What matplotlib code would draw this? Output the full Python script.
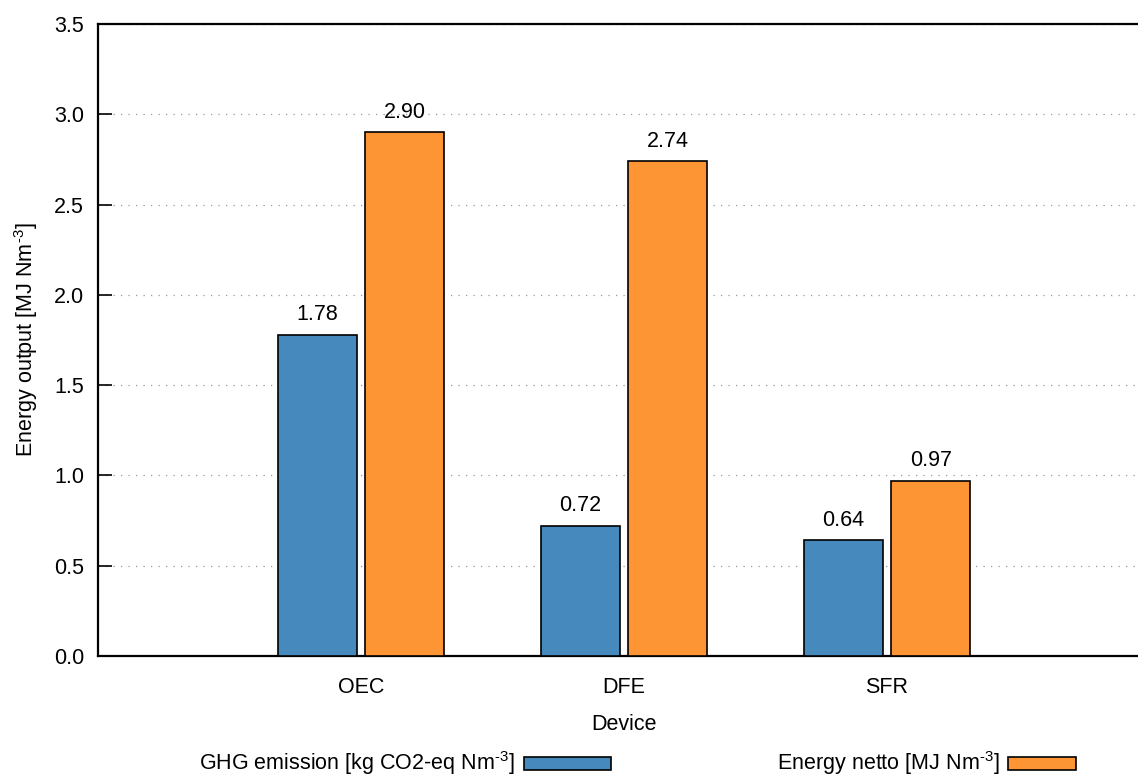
import matplotlib as mpl
mpl.use('Agg')
import matplotlib.pyplot as plt
from matplotlib.patches import Rectangle
import numpy as np

plt.rcParams['font.family'] = ['Liberation Sans', 'DejaVu Sans']
plt.rcParams['mathtext.fontset'] = 'custom'
plt.rcParams['mathtext.rm'] = 'Liberation Sans'

# superscript with a plain hyphen, not a math minus
SUP = '$^{\u2010\\mathrm{3}}$'

devices = ['OEC', 'DFE', 'SFR']
ghg_emission = [1.78, 0.72, 0.64]
energy_netto = [2.90, 2.74, 0.97]
series_labels = ['GHG emission [kg CO2-eq Nm' + SUP + ']', 'Energy netto [MJ Nm' + SUP + ']']
yticks = [0.0, 0.5, 1.0, 1.5, 2.0, 2.5, 3.0, 3.5]

blue = '#4589bd'
orange = '#fd9535'
fs = 15.5

fig = plt.figure(figsize=(11.38, 7.76), dpi=100)
# the right end of the x range (4) falls just past the image edge
ax = fig.add_axes([98 / 1138, 1 - 656 / 776, 1052 / 1138, 632 / 776])

x = np.arange(1, len(devices) + 1)
w = 0.30
off = 0.167
b1 = ax.bar(x - off, ghg_emission, w, color=blue, edgecolor='black', linewidth=1.2, zorder=3)
b2 = ax.bar(x + off, energy_netto, w, color=orange, edgecolor='black', linewidth=1.2, zorder=3)

for bars, vals in ((b1, ghg_emission), (b2, energy_netto)):
    for r, v in zip(bars, vals):
        ax.annotate('%.2f' % v, (r.get_x() + r.get_width() / 2, v),
                    xytext=(0, 7), textcoords='offset points',
                    ha='center', va='bottom', fontsize=fs)

ax.set_xlim(0, 4)
ax.set_ylim(0, 3.5)
ax.set_yticks(yticks)
ax.set_yticklabels(['%.1f' % t for t in yticks])
ax.set_xticks(x)
ax.set_xticklabels(devices)
ax.tick_params(axis='y', direction='in', length=10, width=1.2, labelsize=fs, pad=10)
ax.tick_params(axis='x', length=0, labelsize=fs, pad=15)
ax.grid(axis='y', color='#999999', linestyle=(0, (1, 5)), linewidth=0.9, zorder=0)
for s in ('left', 'top', 'bottom', 'right'):
    ax.spines[s].set_linewidth(1.6)

ax.set_xlabel('Device', fontsize=fs, labelpad=12)
ax.set_ylabel('Energy output [MJ Nm' + SUP + ']', fontsize=fs, labelpad=10)

# legend in gnuplot style: label text followed by the sample box
legend_items = [(515, 524, 87, blue), (1000, 1008, 68, orange)]
for label, (tx, bx, bw, c) in zip(series_labels, legend_items):
    fig.text(tx / 1138, 1 - 763 / 776, label, ha='right', va='center', fontsize=fs)
    fig.add_artist(Rectangle((bx / 1138, 1 - 770 / 776), bw / 1138, 13 / 776,
                             transform=fig.transFigure, facecolor=c,
                             edgecolor='black', linewidth=1.2))

fig.savefig('out.png', dpi=100)
